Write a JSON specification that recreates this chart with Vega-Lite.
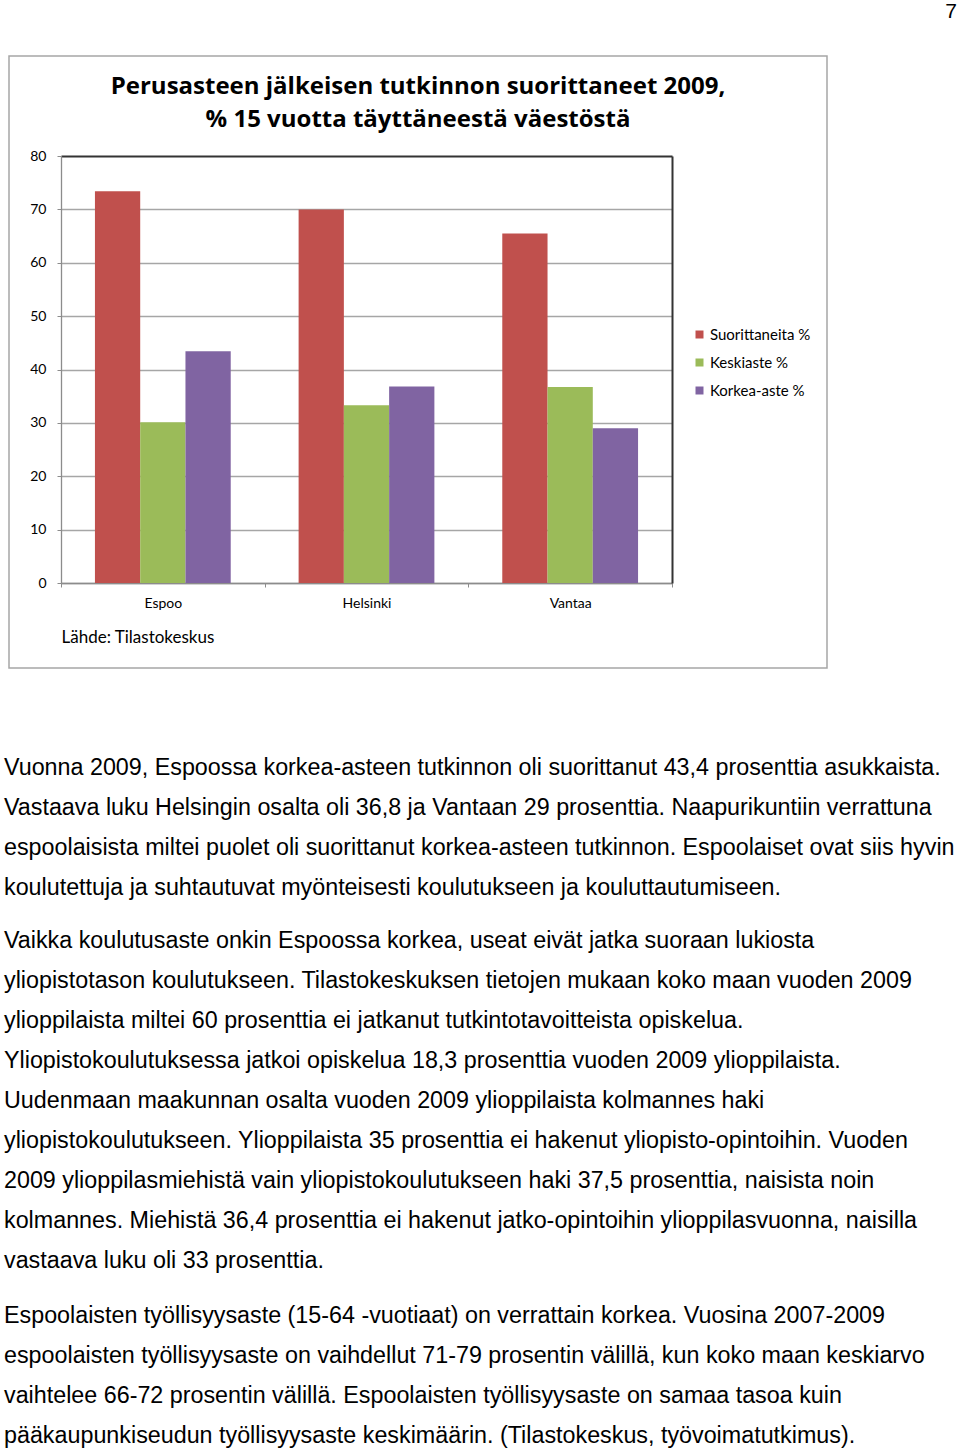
{
  "$schema": "https://vega.github.io/schema/vega-lite/v6.json",
  "background": "white",
  "padding": {"left": 4, "top": 1, "right": 3, "bottom": 0},
  "bounds": "flush",
  "spacing": 89,
  "title": {"text": "7", "anchor": "end", "font": "Liberation Sans", "fontSize": 21, "fontWeight": "normal", "color": "#000000", "offset": 33},
  "datasets": {
    "bars": [
      {"city": "Espoo", "series": "Suorittaneita %", "value": 73.4},
      {"city": "Espoo", "series": "Keskiaste %", "value": 30.1},
      {"city": "Espoo", "series": "Korkea-aste %", "value": 43.4},
      {"city": "Helsinki", "series": "Suorittaneita %", "value": 70.0},
      {"city": "Helsinki", "series": "Keskiaste %", "value": 33.3},
      {"city": "Helsinki", "series": "Korkea-aste %", "value": 36.8},
      {"city": "Vantaa", "series": "Suorittaneita %", "value": 65.5},
      {"city": "Vantaa", "series": "Keskiaste %", "value": 36.7},
      {"city": "Vantaa", "series": "Korkea-aste %", "value": 29.0}
    ],
    "body": [
      {"para": 1, "line": 1, "text": "Vuonna 2009, Espoossa korkea-asteen tutkinnon oli suorittanut 43,4 prosenttia asukkaista."},
      {"para": 1, "line": 2, "text": "Vastaava luku Helsingin osalta oli 36,8 ja Vantaan 29 prosenttia. Naapurikuntiin verrattuna"},
      {"para": 1, "line": 3, "text": "espoolaisista miltei puolet oli suorittanut korkea-asteen tutkinnon. Espoolaiset ovat siis hyvin"},
      {"para": 1, "line": 4, "text": "koulutettuja ja suhtautuvat myönteisesti koulutukseen ja kouluttautumiseen."},
      {"para": 2, "line": 1, "text": "Vaikka koulutusaste onkin Espoossa korkea, useat eivät jatka suoraan lukiosta"},
      {"para": 2, "line": 2, "text": "yliopistotason koulutukseen. Tilastokeskuksen tietojen mukaan koko maan vuoden 2009"},
      {"para": 2, "line": 3, "text": "ylioppilaista miltei 60 prosenttia ei jatkanut tutkintotavoitteista opiskelua."},
      {"para": 2, "line": 4, "text": "Yliopistokoulutuksessa jatkoi opiskelua 18,3 prosenttia vuoden 2009 ylioppilaista."},
      {"para": 2, "line": 5, "text": "Uudenmaan maakunnan osalta vuoden 2009 ylioppilaista kolmannes haki"},
      {"para": 2, "line": 6, "text": "yliopistokoulutukseen. Ylioppilaista 35 prosenttia ei hakenut yliopisto-opintoihin.  Vuoden"},
      {"para": 2, "line": 7, "text": "2009 ylioppilasmiehistä vain yliopistokoulutukseen haki 37,5 prosenttia, naisista noin"},
      {"para": 2, "line": 8, "text": "kolmannes. Miehistä 36,4 prosenttia ei hakenut jatko-opintoihin ylioppilasvuonna, naisilla"},
      {"para": 2, "line": 9, "text": "vastaava luku oli 33 prosenttia."},
      {"para": 3, "line": 1, "text": "Espoolaisten työllisyysaste (15-64 -vuotiaat) on verrattain korkea. Vuosina 2007-2009"},
      {"para": 3, "line": 2, "text": "espoolaisten työllisyysaste on vaihdellut 71-79 prosentin välillä, kun koko maan keskiarvo"},
      {"para": 3, "line": 3, "text": "vaihtelee 66-72 prosentin välillä. Espoolaisten työllisyysaste on samaa tasoa kuin"},
      {"para": 3, "line": 4, "text": "pääkaupunkiseudun työllisyysaste keskimäärin.  (Tilastokeskus, työvoimatutkimus)."}
    ]
  },
  "vconcat": [
    {
      "width": 818,
      "height": 612,
      "view": {"stroke": "#A6A6A6", "strokeWidth": 1.5},
      "title": {"text": ["Perusasteen jälkeisen tutkinnon suorittaneet 2009,", "% 15 vuotta täyttäneestä väestöstä"], "font": "Open Sans", "fontSize": 24, "fontWeight": "bold", "color": "#000000", "lineHeight": 33, "anchor": "middle", "frame": "group", "offset": -100, "baseline": "bottom"},
      "data": {"name": "bars"},
      "resolve": {"axis": {"y": "independent"}},
      "layer": [
        {
          "mark": {"type": "bar"},
          "encoding": {
            "x": {"field": "city", "type": "nominal", "sort": ["Espoo", "Helsinki", "Vantaa"], "scale": {"range": [52, 663], "paddingInner": 0, "paddingOuter": 0},
              "axis": {"orient": "bottom", "offset": -85, "tickBand": "extent", "domainColor": "#8C8C8C", "tickColor": "#8C8C8C", "domainWidth": 1.3, "tickSize": 4, "labelPadding": 9, "labelFont": "Lato", "labelFontSize": 14, "labelColor": "#000000", "labelAngle": 0, "title": "Lähde: Tilastokeskus", "titleFont": "Lato", "titleFontSize": 17, "titleFontWeight": "normal", "titleColor": "#000000", "titleAnchor": "start", "titleAlign": "left", "titlePadding": 19}},
            "xOffset": {"field": "series", "type": "nominal", "sort": ["Suorittaneita %", "Keskiaste %", "Korkea-aste %"], "scale": {"paddingInner": 0, "paddingOuter": 0.75}},
            "y": {"field": "value", "type": "quantitative", "scale": {"domain": [0, 80], "range": [527, 100]},
              "axis": {"orient": "left", "offset": -52, "values": [0, 10, 20, 30, 40, 50, 60, 70, 80], "grid": true,
                "gridColor": {"condition": {"test": "datum.value === 80", "value": "#333333"}, "value": "#A6A6A6"},
                "gridWidth": {"condition": {"test": "datum.value === 80", "value": 2}, "value": 1.3},
                "domainColor": "#8C8C8C", "tickColor": "#8C8C8C", "domainWidth": 1.3, "tickSize": 4, "labelPadding": 11, "labelFont": "Lato", "labelFontSize": 14, "labelColor": "#000000", "title": null}},
            "color": {"field": "series", "type": "nominal", "sort": ["Suorittaneita %", "Keskiaste %", "Korkea-aste %"],
              "scale": {"domain": ["Suorittaneita %", "Keskiaste %", "Korkea-aste %"], "range": ["#C0504D", "#9BBB59", "#8064A2"]},
              "legend": {"orient": "none", "legendX": 683, "legendY": 271, "title": null, "symbolType": "square", "symbolSize": 64, "symbolStrokeWidth": 0, "labelFont": "Lato", "labelFontSize": 15, "labelColor": "#000000", "rowPadding": 12, "labelOffset": 3}}
          }
        },
        {
          "mark": {"type": "rule", "strokeOpacity": 0},
          "encoding": {
            "y": {"field": "value", "type": "quantitative",
              "axis": {"orient": "right", "offset": -155, "grid": false, "labels": false, "ticks": false, "domainColor": "#333333", "domainWidth": 2, "title": null}}
          }
        }
      ]
    },
    {
      "bounds": "flush",
      "spacing": 34,
      "vconcat": [
        {
          "width": 948, "height": 140,
          "data": {"name": "body"},
          "transform": [{"filter": "datum.para == 1"}],
          "mark": {"type": "text", "align": "left", "baseline": "middle", "dx": -5, "dy": 1, "font": "Liberation Sans", "fontSize": 23.3, "color": "#000000"},
          "encoding": {
            "x": {"value": 0},
            "y": {"field": "line", "type": "ordinal", "scale": {"type": "point", "padding": 0.25}, "axis": null},
            "text": {"field": "text"}
          }
        },
        {
          "width": 948, "height": 340,
          "data": {"name": "body"},
          "transform": [{"filter": "datum.para == 2"}],
          "mark": {"type": "text", "align": "left", "baseline": "middle", "dx": -5, "dy": 0, "font": "Liberation Sans", "fontSize": 23.3, "color": "#000000"},
          "encoding": {
            "x": {"value": 0},
            "y": {"field": "line", "type": "ordinal", "scale": {"type": "point", "padding": 0.25}, "axis": null},
            "text": {"field": "text"}
          }
        },
        {
          "width": 948, "height": 140,
          "data": {"name": "body"},
          "transform": [{"filter": "datum.para == 3"}],
          "mark": {"type": "text", "align": "left", "baseline": "middle", "dx": -5, "dy": 1, "font": "Liberation Sans", "fontSize": 23.3, "color": "#000000"},
          "encoding": {
            "x": {"value": 0},
            "y": {"field": "line", "type": "ordinal", "scale": {"type": "point", "padding": 0.25}, "axis": null},
            "text": {"field": "text"}
          }
        }
      ]
    }
  ],
  "config": {"view": {"stroke": null}}
}
